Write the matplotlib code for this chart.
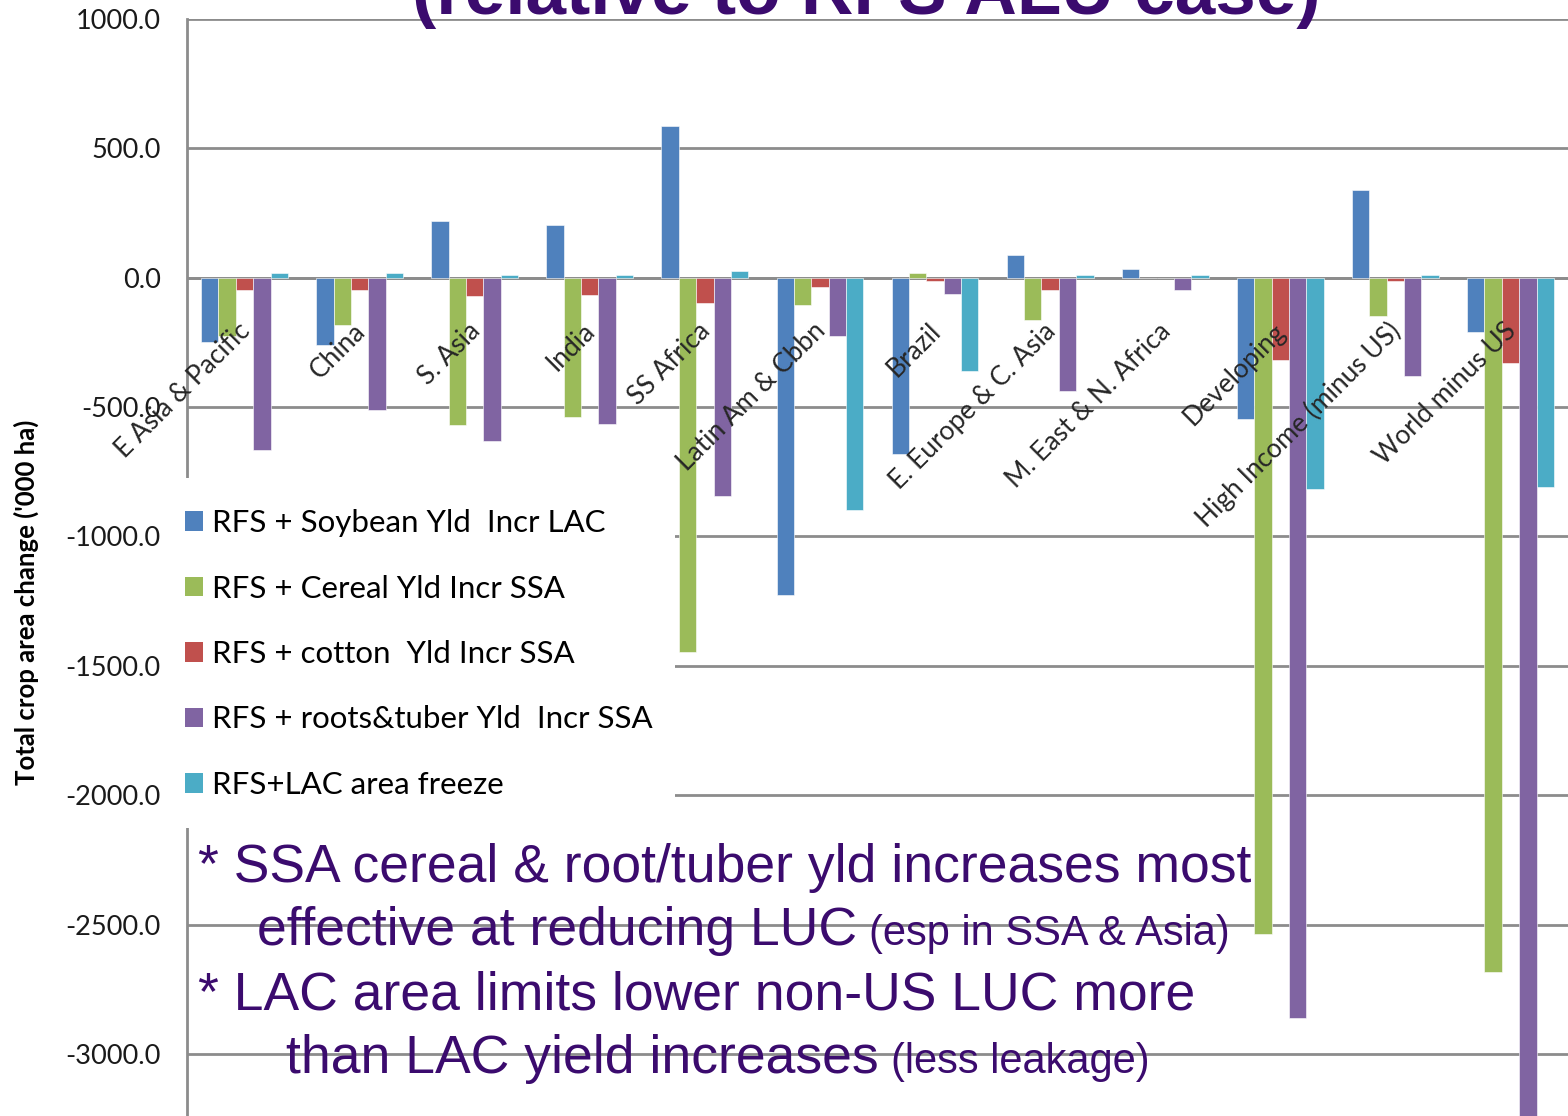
import numpy as np
import matplotlib
matplotlib.use('Agg')
import matplotlib.pyplot as plt
from matplotlib.patches import Patch, Rectangle

# regions along the x axis
categories = ['E Asia & Pacific', 'China', 'S. Asia', 'India', 'SS Africa',
              'Latin Am & Cbbn', 'Brazil', 'E. Europe & C. Asia',
              'M. East & N. Africa', 'Developing', 'High Income (minus US)',
              'World minus US']

# crop area change ('000 ha)
soybean_lac = [-247, -259, 221, 205, 585, -1225, -680, 86, 35, -546, 340, -208]
cereal_ssa = [-225, -182, -571, -538, -1445, -107, 18, -165, 0, -2535, -148, -2685]
cotton_ssa = [-46, -46, -72, -66, -98, -37, -12, -49, 0, -318, -14, -328]
roots_ssa = [-665, -513, -632, -564, -842, -224, -63, -437, -46, -2862, -378, -3400]
lac_freeze = [19, 19, 12, 12, 27, -896, -359, 10, 9, -817, 10, -810]

series_names = ['RFS + Soybean Yld  Incr LAC', 'RFS + Cereal Yld Incr SSA',
                'RFS + cotton  Yld Incr SSA', 'RFS + roots&tuber Yld  Incr SSA',
                'RFS+LAC area freeze']
colors = ['#4F81BD', '#9BBB59', '#C0504D', '#8064A2', '#4BACC6']
yticks = [1000, 500, 0, -500, -1000, -1500, -2000, -2500, -3000]

W, H = 1568, 1116
purple = '#3B0B6E'
grid_col = '#8C8C8C'
narrow = ['Liberation Sans Narrow', 'Liberation Sans']

fig = plt.figure(figsize=(W / 100, H / 100), dpi=100)
ax = fig.add_axes([187 / W, 0, 1 - 187 / W, 1 - 19 / H])

x = np.arange(len(categories))
w = 0.151
all_series = [soybean_lac, cereal_ssa, cotton_ssa, roots_ssa, lac_freeze]
for k, vals in enumerate(all_series):
    ax.bar(x + (k - 2) * w, vals, width=w, color=colors[k],
           edgecolor='white', linewidth=0.4, zorder=3)

ax.set_xlim(-0.5, len(categories) - 0.5)
ax.set_ylim(-3240, 1000)
ax.set_yticks(yticks)
ax.set_yticklabels(['%.1f' % v for v in yticks], fontsize=19.5, family='Lato',
                   color='#1a1a1a')
ax.tick_params(axis='y', length=0, pad=19)
ax.set_xticks([])
ax.grid(axis='y', color=grid_col, linewidth=2, zorder=0)
ax.axhline(0, color=grid_col, linewidth=2, zorder=2)
for s in ['top', 'right', 'bottom']:
    ax.spines[s].set_visible(False)
ax.spines['left'].set_color(grid_col)
ax.spines['left'].set_linewidth(2)

# category labels sit on the zero line, like Excel does
for i, lab in enumerate(categories):
    ax.text(i + 0.06, -212, lab, rotation=45, rotation_mode='anchor',
            ha='right', va='baseline', fontsize=19, family='Lato',
            color='#262626', zorder=4)

ax.set_ylabel("Total crop area change ('000 ha)", fontsize=18.5, family='Lato',
              fontweight='bold')
ax.yaxis.set_label_coords(-148 / (W - 187), 1 - (602 - 19) / (H - 19))

# white box behind the legend
fig.patches.append(Rectangle((175 / W, 1 - 828 / H), 500 / W, 350 / H,
                             transform=fig.transFigure, facecolor='white',
                             edgecolor='none', zorder=1))
handles = [Patch(facecolor=c) for c in colors]
fig.legend(handles, series_names, loc='upper left',
           bbox_to_anchor=(185 / W, 1 - 509 / H), frameon=False,
           prop={'family': 'Lato', 'size': 22.5}, handlelength=0.58,
           handleheight=0.58, handletextpad=0.3, labelspacing=1.2,
           borderpad=0, borderaxespad=0)

# title, cut off at the top of the slide
fig.text(866 / W, 1 - 14 / H, '(relative to RFS ALU case)', ha='center',
         va='baseline', fontsize=52.5, fontweight='bold', color=purple,
         family=narrow)

# notes in the lower part
big = 38.5
small = 30
fig.text(198 / W, 1 - 882 / H, '* SSA cereal & root/tuber yld increases most',
         fontsize=big, color=purple, family=narrow, va='baseline', zorder=6)
t2 = fig.text(257 / W, 1 - 945 / H, 'effective at reducing LUC',
              fontsize=big, color=purple, family=narrow, va='baseline', zorder=6)
fig.text(198 / W, 1 - 1010 / H, '* LAC area limits lower non-US LUC more',
         fontsize=big, color=purple, family=narrow, va='baseline', zorder=6)
t4 = fig.text(286 / W, 1 - 1073 / H, 'than LAC yield increases',
              fontsize=big, color=purple, family=narrow, va='baseline', zorder=6)

fig.canvas.draw()
r = fig.canvas.get_renderer()
for t, extra in [(t2, '(esp in SSA & Asia)'), (t4, '(less leakage)')]:
    bb = t.get_window_extent(r)
    fig.text((bb.x1 + 12) / W, t.get_position()[1], extra, fontsize=small,
             color=purple, family=narrow, va='baseline', zorder=6)

fig.savefig('out.png', dpi=100)
